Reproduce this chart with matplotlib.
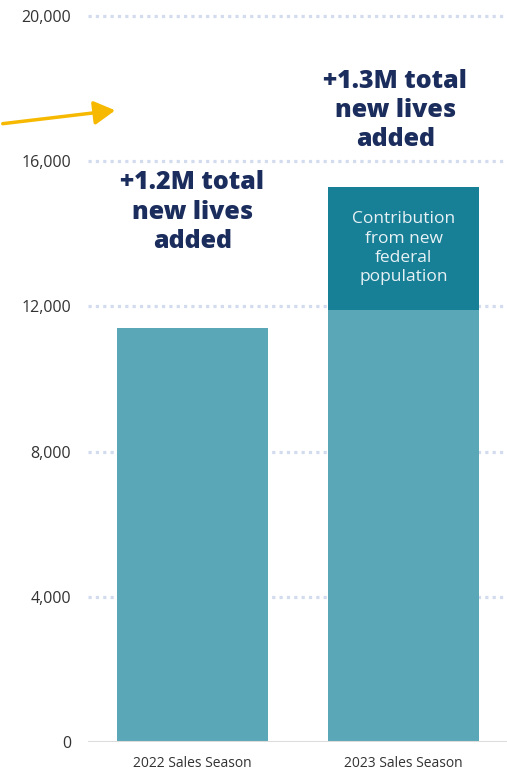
import matplotlib
matplotlib.use("Agg")
import matplotlib.pyplot as plt
import numpy as np

plt.rcParams["font.family"] = ["Open Sans", "DejaVu Sans"]

seasons = ["2022 Sales Season", "2023 Sales Season"]
base_lives = [11400, 11900]
federal_lives = [0, 3400]
headlines = ["+1.2M total\nnew lives\nadded", "+1.3M total\nnew lives\nadded"]
yticks = [0, 4000, 8000, 12000, 16000, 20000]

BASE_COLOR = "#5aa7b7"
FED_COLOR = "#177f96"
NAVY = "#1b2d5c"
GRID = "#d3dbee"

fig = plt.figure(figsize=(5.07, 7.71), dpi=100)
ax = fig.add_axes([88 / 507, 29 / 771, 419 / 507, 726 / 771])

x = np.arange(len(seasons))
width = 0.716
ax.bar(x, base_lives, width=width, color=BASE_COLOR, zorder=2)
ax.bar(x[1], federal_lives[1], bottom=base_lives[1], width=width,
       color=FED_COLOR, zorder=2)

# dotted gridlines, solid baseline
for t in yticks[1:]:
    ax.axhline(t, color=GRID, lw=2.3, ls=(0, (1, 1.3)), zorder=1, clip_on=False)
ax.axhline(0, color="#dcdcdc", lw=1.5, zorder=3)

ax.set_xlim(-0.495, 1.49)
ax.set_ylim(0, 20000)
ax.set_yticks(yticks)
ax.set_yticklabels([f"{t:,}" for t in yticks], fontsize=11.5, color="#333333")
ax.set_xticks(x)
ax.set_xticklabels(seasons, fontsize=10, color="#333333")
ax.tick_params(axis="y", length=0, pad=12)
ax.tick_params(axis="x", length=0, pad=10)
for s in ax.spines.values():
    s.set_visible(False)

# headline totals above each bar
ax.text(x[0], 14600, headlines[0], ha="center", va="center", fontsize=18,
        fontweight="heavy", color=NAVY, linespacing=1.22)
ax.text(x[1] - 0.04, 17400, headlines[1], ha="center", va="center", fontsize=18,
        fontweight="heavy", color=NAVY, linespacing=1.22)

ax.text(x[1], base_lives[1] + federal_lives[1] / 2, "Contribution\nfrom new\nfederal\npopulation",
        ha="center", va="center", fontsize=12.5, color="#e8f2f5", linespacing=1.28, zorder=4)

# yellow pointer coming in from the left edge
fig.add_artist(matplotlib.patches.FancyArrowPatch(
    (0.0, 1 - 124 / 771), (118 / 507, 1 - 110 / 771),
    transform=fig.transFigure, arrowstyle="-|>,head_length=8,head_width=4.5",
    color="#f6b900", lw=2.5, mutation_scale=1.6))

fig.savefig("out.png", dpi=100)
